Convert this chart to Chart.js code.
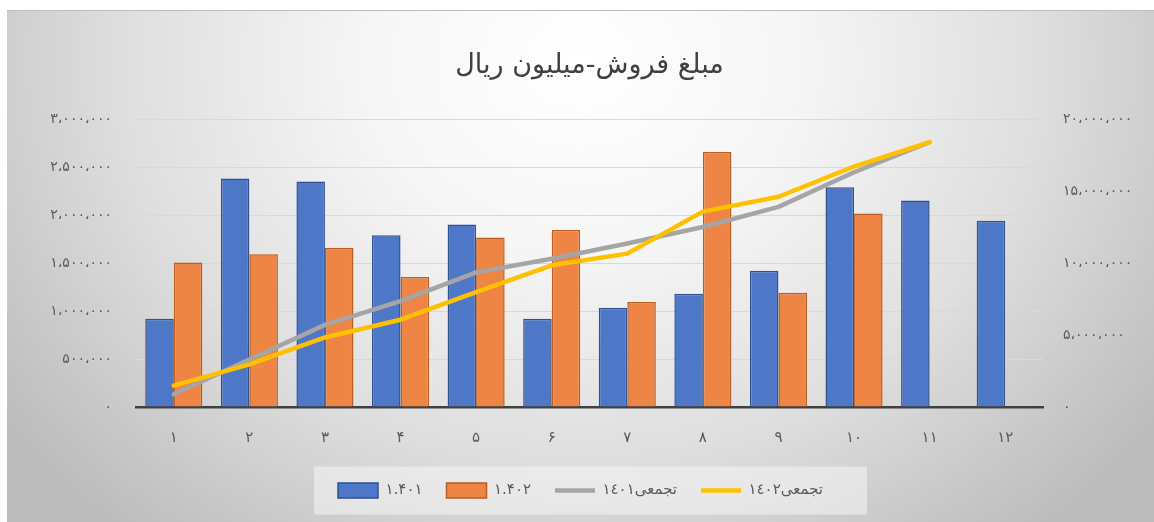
<!DOCTYPE html>
<html lang="fa">
<head>
<meta charset="utf-8">
<script src="https://cdn.jsdelivr.net/npm/chart.js@4.4.1/dist/chart.umd.min.js"></script>
<style>
  html, body { margin: 0; padding: 0; background: #fff; }
  #cadre {
    position: absolute; left: 7px; top: 10px; width: 1147px; height: 512px;
    background: radial-gradient(ellipse 62% 120% at 50% 10%, #ffffff 0%, #f6f6f6 30%, #dedede 65%, #bcbcbc 100%);
    border-top: 1px solid #bdbdbd;
  }
  canvas { display: block; }
</style>
</head>
<body>
<div id="cadre"><canvas id="grafico" width="1147" height="511"></canvas></div>
<script>
// --- datos ---
const meses = ['۱', '۲', '۳', '۴', '۵', '۶', '۷', '۸', '۹', '۱۰', '۱۱', '۱۲'];
const nombresSeries = ['۱.۴۰۱', '۱.۴۰۲', 'تجمعی١٤٠١', 'تجمعی١٤٠٢'];

// ventas mensuales (eje izquierdo)
const ventas1401 = [920000, 2380000, 2350000, 1790000, 1900000, 920000, 1035000, 1180000, 1420000, 2290000, 2150000, 1940000];
const ventas1402 = [1505000, 1590000, 1660000, 1355000, 1765000, 1845000, 1095000, 2655000, 1190000, 2015000, null, null];

// acumulado (eje derecho)
const acumulado1401 = [880000, 3300000, 5700000, 7350000, 9350000, 10300000, 11350000, 12500000, 13900000, 16300000, 18400000, null];
const acumulado1402 = [1490000, 2960000, 4830000, 6060000, 7970000, 9840000, 10650000, 13570000, 14600000, 16700000, 18400000, null];

const fuente = "'DejaVu Sans', 'Noto Sans', sans-serif";
const grisTexto = '#595959';

// número -> cifras persas con separador de miles
function aPersa(n) {
    const s = Math.round(n).toString().replace(/\B(?=(\d{3})+(?!\d))/g, '،');
    return s.replace(/\d/g, d => '۰۱۲۳۴۵۶۷۸۹'[d]);
}

// recuadro claro detrás de la leyenda (como en Excel)
const fondoLeyenda = {
    id: 'fondoLeyenda',
    beforeDraw(chart) {
        const cajas = chart.legend && chart.legend.legendHitBoxes;
        if (!cajas || !cajas.length) return;
        const izq = cajas[0].left - 24;
        const ult = cajas[cajas.length - 1];
        const der = ult.left + ult.width + 44;
        const centro = cajas[0].top + cajas[0].height / 2;
        const c = chart.ctx;
        c.save();
        c.fillStyle = 'rgba(245,245,245,0.55)';
        c.fillRect(izq, centro - 24, der - izq, 48);
        c.restore();
    }
};

const ctx = document.getElementById('grafico').getContext('2d');
const grafico = new Chart(ctx, {
    type: 'bar',
    data: {
        labels: meses,
        datasets: [
            {
                label: nombresSeries[0],
                data: ventas1401,
                backgroundColor: '#4E77C7',
                borderColor: '#2F528F',
                borderWidth: 1.5,
                yAxisID: 'y',
                order: 3,
                pointStyle: 'rect'
            },
            {
                label: nombresSeries[1],
                data: ventas1402,
                backgroundColor: '#EF8544',
                borderColor: '#B85E22',
                borderWidth: 1.5,
                yAxisID: 'y',
                order: 3,
                pointStyle: 'rect'
            },
            {
                type: 'line',
                label: nombresSeries[2],
                data: acumulado1401,
                borderColor: '#A5A5A5',
                backgroundColor: '#A5A5A5',
                borderWidth: 4.5,
                pointRadius: 0,
                tension: 0,
                borderJoinStyle: 'round',
                borderCapStyle: 'round',
                yAxisID: 'y1',
                order: 2,
                pointStyle: 'line'
            },
            {
                type: 'line',
                label: nombresSeries[3],
                data: acumulado1402,
                borderColor: '#FFC000',
                backgroundColor: '#FFC000',
                borderWidth: 4.5,
                pointRadius: 0,
                tension: 0,
                borderJoinStyle: 'round',
                borderCapStyle: 'round',
                yAxisID: 'y1',
                order: 1,
                pointStyle: 'line'
            }
        ]
    },
    options: {
        responsive: false,
        animation: false,
        layout: { padding: { left: 0, right: 0, top: 0, bottom: 14 } },
        datasets: {
            bar: { categoryPercentage: 0.755, barPercentage: 1 }
        },
        plugins: {
            title: {
                display: true,
                text: 'مبلغ فروش-میلیون ریال',
                fullSize: false,
                color: '#404040',
                font: { family: fuente, size: 27, weight: 'normal' },
                padding: { top: 38.8, bottom: 36.8 }
            },
            legend: {
                position: 'bottom',
                labels: {
                    usePointStyle: true,
                    pointStyleWidth: 40,
                    boxHeight: 16,
                    padding: 24,
                    color: grisTexto,
                    font: { family: fuente, size: 15 },
                    sort: (a, b) => a.datasetIndex - b.datasetIndex
                }
            },
            tooltip: { enabled: false }
        },
        scales: {
            x: {
                grid: { display: false, drawTicks: false },
                border: { display: true, color: '#404040', width: 2.5 },
                ticks: { color: grisTexto, font: { family: fuente, size: 15 }, padding: 22 },
                afterFit: s => { s.height = 52; }
            },
            y: {
                position: 'left',
                min: 0,
                max: 3000000,
                grid: { color: '#D9D9D9', lineWidth: 1, drawTicks: false },
                border: { display: false },
                ticks: {
                    stepSize: 500000,
                    color: grisTexto,
                    font: { family: fuente, size: 14 },
                    padding: 24,
                    callback: v => aPersa(v)
                },
                afterFit: s => { s.width = 129; }
            },
            y1: {
                position: 'right',
                min: 0,
                max: 20000000,
                grid: { display: false, drawTicks: false },
                border: { display: false },
                ticks: {
                    stepSize: 5000000,
                    color: grisTexto,
                    font: { family: fuente, size: 14 },
                    padding: 20,
                    callback: v => aPersa(v)
                },
                afterFit: s => { s.width = 111; }
            }
        }
    },
    plugins: [fondoLeyenda]
});
</script>
</body>
</html>
